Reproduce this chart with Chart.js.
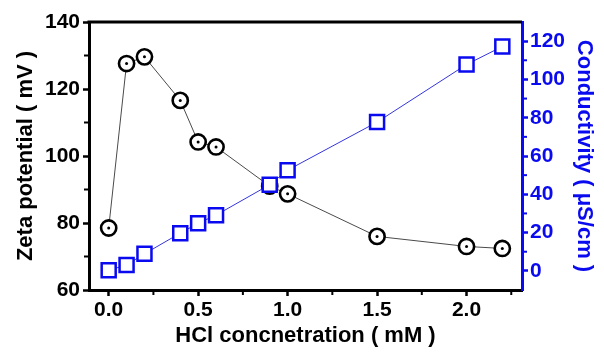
<!DOCTYPE html>
<html>
<head>
<meta charset="utf-8">
<script src="https://cdn.jsdelivr.net/npm/chart.js@4"></script>
<style>
  html, body { margin: 0; padding: 0; background: #fff; }
  #wrap { width: 604px; height: 352px; }
</style>
</head>
<body>
<div id="wrap"><canvas id="c" width="604" height="352"></canvas></div>
<script>
// HCl concentration (mM) and the two measured series
const hclConc       = [0, 0.1, 0.2, 0.4, 0.5, 0.6, 0.9, 1.0, 1.5, 2.0, 2.2];
const zetaPotential = [78.5, 127.6, 129.6, 116.6, 104.2, 102.7, 91.0, 88.7, 76.0, 73.0, 72.4];
const conductivity  = [0.3, 3.1, 8.9, 19.7, 24.9, 29.1, 45.0, 52.6, 77.7, 107.8, 117.2];

// Axis ticks
const xTickLabels    = [0, 0.5, 1.0, 1.5, 2.0];
const zetaTickLabels = [60, 80, 100, 120, 140];
const condTickLabels = [0, 20, 40, 60, 80, 100, 120];
const xMinorTicks    = [0.25, 0.75, 1.25, 1.75, 2.25];
const zetaMinorTicks = [70, 90, 110, 130];
const condMinorTicks = [10, 30, 50, 70, 90, 110];

const BLACK = '#000000';
const BLUE = '#0a0af0';
const FONT = 'Liberation Sans, Arial, sans-serif';

// Short outward minor ticks, the top frame line, and the centre dots of the circles
const decorations = {
  id: 'decorations',
  afterDatasetDraw(chart, args) {
    if (args.index !== 0) return;
    const ctx = chart.ctx;
    ctx.save();
    ctx.fillStyle = BLACK;
    args.meta.data.forEach(pt => {
      ctx.beginPath();
      ctx.arc(pt.x, pt.y, 1.5, 0, Math.PI * 2);
      ctx.fill();
    });
    ctx.restore();
  },
  afterDraw(chart) {
    const ctx = chart.ctx;
    const { x, y, y1 } = chart.scales;
    const area = chart.chartArea;
    ctx.save();
    ctx.lineWidth = 2;
    ctx.strokeStyle = BLACK;
    xMinorTicks.forEach(v => {
      const p = x.getPixelForValue(v);
      ctx.beginPath(); ctx.moveTo(p, area.bottom); ctx.lineTo(p, area.bottom + 5); ctx.stroke();
    });
    zetaMinorTicks.forEach(v => {
      const p = y.getPixelForValue(v);
      ctx.beginPath(); ctx.moveTo(area.left, p); ctx.lineTo(area.left - 5, p); ctx.stroke();
    });
    ctx.strokeStyle = BLUE;
    condMinorTicks.forEach(v => {
      const p = y1.getPixelForValue(v);
      ctx.beginPath(); ctx.moveTo(area.right, p); ctx.lineTo(area.right + 5, p); ctx.stroke();
    });
    // top edge of the frame
    ctx.strokeStyle = BLACK;
    ctx.lineWidth = 3;
    ctx.beginPath();
    ctx.moveTo(area.left - 1.5, area.top);
    ctx.lineTo(area.right, area.top);
    ctx.stroke();
    ctx.restore();
  }
};

const toPoints = ys => hclConc.map((xv, i) => ({ x: xv, y: ys[i] }));

new Chart(document.getElementById('c'), {
  type: 'scatter',
  data: {
    datasets: [
      {
        label: 'Zeta potential',
        data: toPoints(zetaPotential),
        yAxisID: 'y',
        showLine: true,
        borderColor: '#4a4a4a',
        borderWidth: 1,
        pointStyle: 'circle',
        pointRadius: 7.6,
        pointBorderWidth: 2.6,
        pointBorderColor: BLACK,
        pointBackgroundColor: '#ffffff',
        order: 1,
        clip: false
      },
      {
        label: 'Conductivity',
        data: toPoints(conductivity),
        yAxisID: 'y1',
        showLine: true,
        borderColor: '#3434e0',
        borderWidth: 1,
        pointStyle: 'rect',
        pointRadius: 9.9,
        pointBorderWidth: 2.5,
        pointBorderColor: BLUE,
        pointBackgroundColor: '#ffffff',
        order: 0,
        clip: false
      }
    ]
  },
  options: {
    responsive: false,
    animation: false,
    devicePixelRatio: 1,
    layout: { padding: { top: 22, left: 0, right: 0, bottom: 0 } },
    plugins: { legend: { display: false }, tooltip: { enabled: false } },
    scales: {
      x: {
        type: 'linear',
        position: 'bottom',
        min: -0.11,
        max: 2.31,
        afterBuildTicks: s => { s.ticks = xTickLabels.map(v => ({ value: v })); },
        afterFit: s => { s.height = 62; },
        ticks: {
          callback: v => Number(v).toFixed(1),
          font: { family: FONT, size: 21, weight: 'bold' },
          color: BLACK,
          padding: 2,
          maxRotation: 0,
          autoSkip: false
        },
        grid: { drawOnChartArea: false, tickLength: 6, tickWidth: 2.5, tickColor: BLACK },
        border: { color: BLACK, width: 3 },
        title: {
          display: true,
          text: 'HCl concnetration ( mM )',
          font: { family: FONT, size: 22, weight: 'bold' },
          color: BLACK,
          padding: { top: 0, bottom: 3 }
        }
      },
      y: {
        type: 'linear',
        position: 'left',
        min: 60,
        max: 140,
        afterBuildTicks: s => { s.ticks = zetaTickLabels.map(v => ({ value: v })); },
        afterFit: s => { s.width = 89; },
        ticks: {
          font: { family: FONT, size: 21, weight: 'bold' },
          color: BLACK,
          padding: 3
        },
        grid: { drawOnChartArea: false, tickLength: 6, tickWidth: 2.5, tickColor: BLACK },
        border: { color: BLACK, width: 3 },
        title: {
          display: true,
          text: 'Zeta potential ( mV )',
          font: { family: FONT, size: 22, weight: 'bold' },
          color: BLACK,
          padding: { top: 13, bottom: 0 }
        }
      },
      y1: {
        type: 'linear',
        position: 'right',
        min: -10,
        max: 130,
        afterBuildTicks: s => { s.ticks = condTickLabels.map(v => ({ value: v })); },
        afterFit: s => { s.width = 82; },
        ticks: {
          font: { family: FONT, size: 21, weight: 'bold' },
          color: BLUE,
          padding: 2
        },
        grid: { drawOnChartArea: false, tickLength: 6, tickWidth: 2.5, tickColor: BLUE },
        border: { color: BLUE, width: 3 },
        title: {
          display: true,
          text: 'Conductivity ( \u03bcS/cm )',
          font: { family: FONT, size: 22, weight: 'bold' },
          color: BLUE,
          padding: { top: 7, bottom: 0 }
        }
      }
    }
  },
  plugins: [decorations]
});
</script>
</body>
</html>
